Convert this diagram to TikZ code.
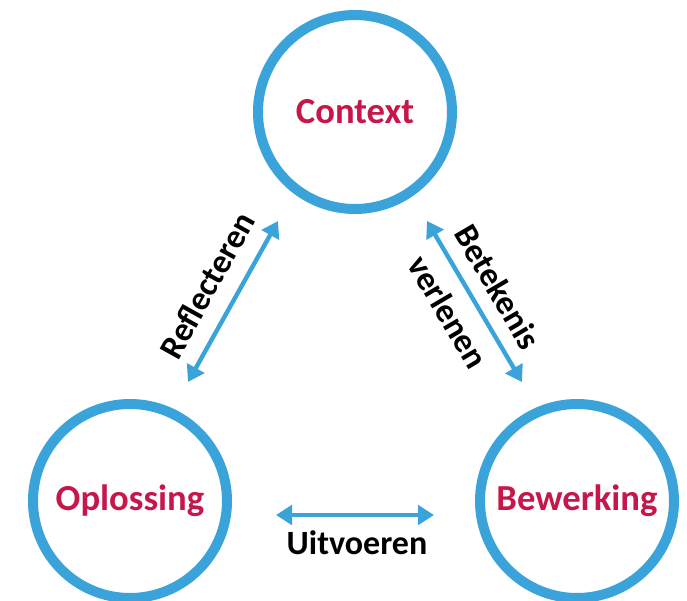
\documentclass[tikz,border=0pt]{standalone}
\usepackage{fontspec}
\setmainfont{Carlito}
\usetikzlibrary{arrows.meta}
\definecolor{ringblue}{HTML}{3AA3D9}
\definecolor{labelred}{HTML}{C6174A}
\tikzset{
  ring/.style={circle, draw=ringblue, line width=7.5pt, minimum size=145.5pt, inner sep=0pt,
    text=labelred, font=\fontsize{27.5}{30}\selectfont\bfseries},
  link/.style={draw=ringblue, line width=3.3pt, {Triangle[length=12pt,width=14.5pt]}-{Triangle[length=12pt,width=14.5pt]}},
  linklabel/.style={font=\fontsize{25.5}{28}\selectfont\bfseries, text=black, inner sep=0pt}
}
\begin{document}
\begin{tikzpicture}[x=0.75pt,y=-0.75pt]
\useasboundingbox (0,0) rectangle (687,601);
\node[ring] (ctx) at (355,112) {Context};
\node[ring] (opl) at (130,501) {Oplossing};
\node[ring] (bew) at (577,501) {Bewerking};
\coordinate (r1) at (278,221);
\coordinate (r2) at (188,382);
\coordinate (b1) at (427,221);
\coordinate (b2) at (522,382);
\coordinate (u1) at (276,515);
\coordinate (u2) at (434,515);
\draw[link] (r2) -- (r1);
\draw[link] (b1) -- (b2);
\draw[link] (u1) -- (u2);
\node[linklabel, rotate=61] (refl) at (207,285) {Reflecteren};
\node[linklabel, rotate=-59.5] (bet) at (498,287) {Betekenis};
\node[linklabel, rotate=-59.5] (verl) at (448,312) {verlenen};
\node[linklabel] (uitv) at (357,543) {Uitvoeren};
\end{tikzpicture}
\end{document}
